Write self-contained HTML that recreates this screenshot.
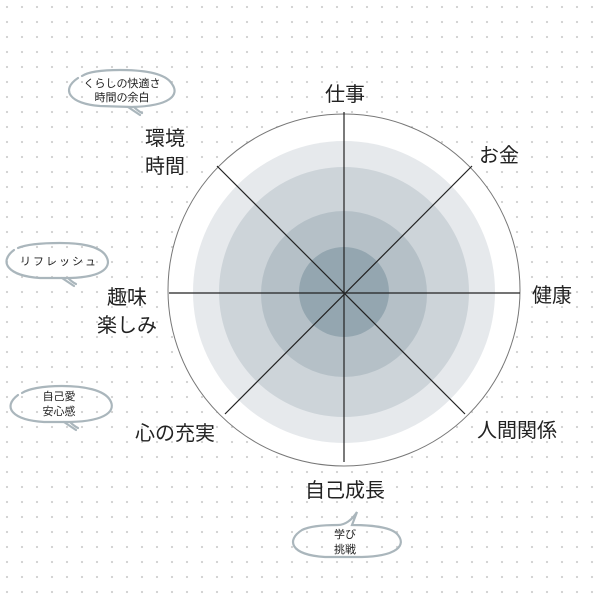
<!DOCTYPE html>
<html><head><meta charset="utf-8"><style>
html,body{margin:0;padding:0;background:#fff}
svg text{font-family:"Liberation Sans","Noto Sans CJK JP",sans-serif;fill:#222}
</style></head><body>
<svg width="600" height="600" viewBox="0 0 600 600" xmlns="http://www.w3.org/2000/svg">
<defs><pattern id="d" width="15" height="15" patternUnits="userSpaceOnUse" x="0" y="0"><circle cx="7" cy="7" r="1.1" fill="#cfcfcf"/></pattern></defs>
<rect width="600" height="600" fill="#fff"/>
<rect width="600" height="600" fill="url(#d)"/>
<circle cx="344" cy="290" r="176" fill="#fff" stroke="#777" stroke-width="1"/>
<circle cx="344" cy="292" r="151" fill="#e6e9ec"/>
<circle cx="344" cy="292" r="125" fill="#cdd4d9"/>
<circle cx="344" cy="294" r="83" fill="#b5c0c7"/>
<circle cx="344" cy="292" r="45" fill="#94a6b0"/>
<g stroke="#222" stroke-width="1.2">
<line x1="344" y1="112" x2="344" y2="462"/>
<line x1="169" y1="293" x2="520" y2="293"/>
<line x1="217" y1="166" x2="465" y2="414"/>
<line x1="472" y1="166" x2="225" y2="414"/>
</g>
<g font-size="20" text-anchor="middle">
<text x="345" y="101">仕事</text>
<text x="499" y="162">お金</text>
<text x="552" y="302">健康</text>
<text x="517" y="437">人間関係</text>
<text x="345" y="497">自己成長</text>
<text x="175" y="440">心の充実</text>
<text x="127" y="304">趣味</text>
<text x="127" y="332">楽しみ</text>
<text x="165" y="145">環境</text>
<text x="165" y="173">時間</text>
</g>
<g fill="none" stroke="#aab6bc" stroke-width="2.2" stroke-linecap="round">
<path d="M78 78 C60 90 70 104 100 106 L132 107 C170 106 180 95 172 84 C165 72 140 70 120 70 C100 70 88 72 82 76"/>
<path d="M128 107 q6 4 12 8 M134 107 q4 4 8 6"/>
<path d="M14 250 C-2 262 8 276 40 278 L70 278 C105 277 112 266 106 256 C100 246 80 243 60 243 C40 243 25 245 18 248"/>
<path d="M62 278 q6 4 12 8 M68 278 q4 4 8 6"/>
<path d="M18 395 C2 407 12 420 44 422 L70 422 C108 421 116 410 110 400 C104 390 84 386 62 386 C42 386 28 389 22 393"/>
<path d="M64 422 q6 4 12 8 M70 422 q4 4 8 6"/>
<path d="M302 530 C286 540 290 555 325 557 L362 557 C398 556 406 545 398 535 C392 527 370 525 352 525 L357 512 C352 520 345 525 338 525 C320 525 308 527 302 530"/>
</g>
<g font-size="11" text-anchor="middle" style="fill:#333">
<text x="122" y="87">くらしの快適さ</text>
<text x="122" y="101">時間の余白</text>
<text x="59" y="265" letter-spacing="2">リフレッシュ</text>
<text x="59" y="400">自己愛</text>
<text x="59" y="415">安心感</text>
<text x="345" y="538">学び</text>
<text x="345" y="553">挑戦</text>
</g>
</svg>
</body></html>
